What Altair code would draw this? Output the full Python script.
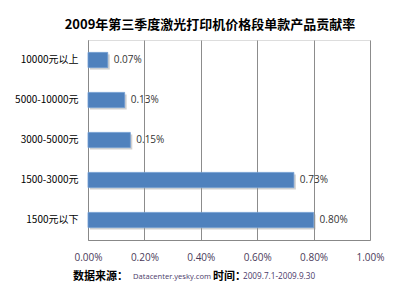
import altair as alt
import pandas as pd

categories = ["10000元以上", "5000-10000元", "3000-5000元", "1500-3000元", "1500元以下"]
values = [0.0007, 0.0013, 0.0015, 0.0073, 0.0080]
x_ticks = [0, 0.002, 0.004, 0.006, 0.008, 0.010]

df = pd.DataFrame({"cat": categories, "val": values})

CJK = "Noto Sans CJK SC"
LAT = "Open Sans"

y_enc = alt.Y("cat:N", sort=categories, title=None,
              scale=alt.Scale(paddingInner=0.62, paddingOuter=0.31),
              axis=alt.Axis(labelFont=CJK, labelFontSize=10, labelColor="#000000",
                            labelPadding=10, ticks=False, domainColor="#888888",
                            domainWidth=1, grid=False))
x_enc = alt.X("val:Q", title=None,
              scale=alt.Scale(domain=[0, 0.01], nice=False),
              axis=alt.Axis(values=x_ticks, format=".2%", labelFont=LAT, labelFontSize=10,
                            labelColor="#4a3a5a", labelPadding=12, ticks=False,
                            domainColor="#888888", grid=True, gridColor="#8c8c8c",
                            gridWidth=1, labelFlush=False))

base = alt.Chart(df)

shadow = base.mark_bar(color="#9a9a9a", opacity=0.45, xOffset=2, yOffset=2).encode(
    x=x_enc, y=y_enc)
bars = base.mark_bar(color="#4f81bd", stroke="#6f9bd0", strokeWidth=0.8).encode(
    x=x_enc, y=y_enc)
labels = base.mark_text(align="left", dx=6, font=LAT, fontSize=10, color="#333333").encode(
    x="val:Q", y=alt.Y("cat:N", sort=categories), text=alt.Text("val:Q", format=".2%"))

title_df = pd.DataFrame({"t": ["2009年第三季度激光打印机价格段单款产品贡献率"]})
title = alt.Chart(title_df).mark_text(font=CJK, fontSize=13, fontWeight="bold",
                                      color="#000000", align="center").encode(
    text="t:N", x=alt.value(122), y=alt.value(-15))

foot_parts = ["数据来源：", "Datacenter.yesky.com", "时间：", "2009.7.1-2009.9.30"]
foot_x = [-15, 45, 125, 155]
foot_bold = ["bold", "normal", "bold", "normal"]
foot_font = [CJK, LAT, CJK, LAT]
foot_size = [11, 7.6, 11, 8.2]
foot_color = ["#000000", "#4a3a6a", "#000000", "#4a3a6a"]
foot_layers = []
for t, fx, fb, ff, fs, fc in zip(foot_parts, foot_x, foot_bold, foot_font, foot_size, foot_color):
    d = pd.DataFrame({"t": [t]})
    foot_layers.append(
        alt.Chart(d).mark_text(font=ff, fontSize=fs, fontWeight=fb,
                               color=fc, align="left").encode(
            text="t:N", x=alt.value(fx), y=alt.value(237)))

chart = alt.layer(shadow, bars, labels, title, *foot_layers).properties(
    width=282, height=200,
    autosize=alt.AutoSizeParams(type="none"),
    padding={"left": 88, "top": 40, "right": 30, "bottom": 60},
).configure_view(stroke=None).configure(background="#ffffff")

chart.save("out.html", embed_options={"renderer": "svg", "actions": False})
